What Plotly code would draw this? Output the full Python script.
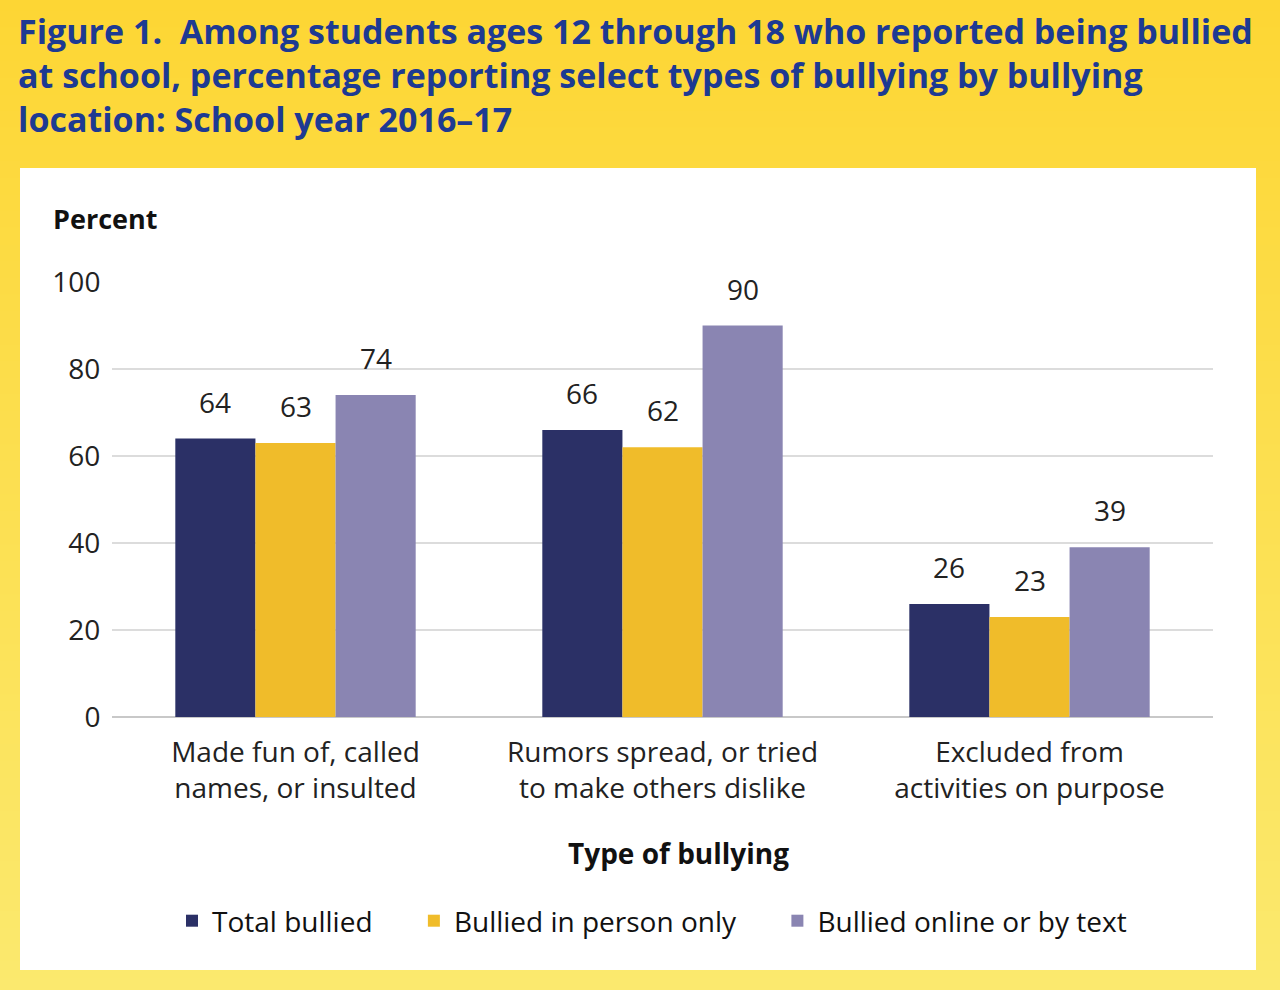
import plotly.graph_objects as go

categories = ["Made fun of, called<br>names, or insulted",
              "Rumors spread, or tried<br>to make others dislike",
              "Excluded from<br>activities on purpose"]
series_names = ["Total bullied", "Bullied in person only", "Bullied online or by text"]
total_bullied = [64, 66, 26]
in_person_only = [63, 62, 23]
online_or_text = [74, 90, 39]
y_ticks = [0, 20, 40, 60, 80, 100]

colors = ["#2B3066", "#F0BC2A", "#8A85B2"]
values = [total_bullied, in_person_only, online_or_text]

W, H = 1280, 990
FONT = "Open Sans"
L, R, T, B = 112, 67, 282, 273
pw = W - L - R
ph = H - T - B
BARGAP = 0.345
bar_px = pw / len(categories) * (1 - BARGAP) / len(series_names)

fig = go.Figure()
pad = ["\u00a0\u00a0\u00a0\u00a0\u00a0", "\u00a0\u00a0\u00a0\u00a0\u00a0", ""]
for name, vals, c, p in zip(series_names, values, colors, pad):
    fig.add_trace(go.Bar(
        x=categories, y=vals, name=name + p, marker=dict(color=c, line=dict(width=0)),
        hoverinfo="x+y",
    ))

def px_x(x):
    return (x - L) / pw

def px_y(y):
    return (H - B - y) / ph

shapes = []
# yellow gradient background
n = 60
top = (253, 214, 52)
bot = (251, 233, 110)
y_hi, y_lo = px_y(-5), px_y(H + 5)
for i in range(n):
    t = i / (n - 1)
    r = round(top[0] + (bot[0] - top[0]) * t)
    g = round(top[1] + (bot[1] - top[1]) * t)
    b = round(top[2] + (bot[2] - top[2]) * t)
    step = (y_hi - y_lo) / n
    shapes.append(dict(type="rect", xref="paper", yref="paper",
                       x0=px_x(-5), x1=px_x(W + 5),
                       y0=y_hi - (i + 1) * step, y1=y_hi - i * step + 0.002,
                       fillcolor=f"rgb({r},{g},{b})", line=dict(width=0), layer="below"))

shapes.append(dict(type="rect", xref="paper", yref="paper",
                   x0=px_x(20), x1=px_x(1256), y0=px_y(970), y1=px_y(168),
                   fillcolor="white", line=dict(width=0), layer="below"))

annotations = [
    dict(text="<b>Figure 1.  Among students ages 12 through 18 who reported being bullied<br>"
              "at school, percentage reporting select types of bullying by bullying<br>"
              "location: School year 2016\u201317</b>",
         xref="paper", yref="paper", x=px_x(16), y=px_y(6), xanchor="left", yanchor="top",
         align="left", showarrow=False,
         font=dict(family=FONT, size=34, color="#1D3A92")),
    dict(text="<b>Percent</b>", xref="paper", yref="paper", x=px_x(51), y=px_y(219),
         xanchor="left", yanchor="middle", showarrow=False,
         font=dict(family=FONT, size=27, color="#111111")),
    dict(text="<b>Type of bullying</b>", xref="paper", yref="paper", x=px_x(678), y=px_y(853),
         xanchor="center", yanchor="middle", showarrow=False,
         font=dict(family=FONT, size=28, color="#111111")),
]

# value labels above each bar
offsets = [-1, 0, 1]
for vals, off in zip(values, offsets):
    for cat, v in zip(categories, vals):
        annotations.append(dict(
            x=cat, y=v, xref="x", yref="y", text=str(v), showarrow=False,
            xanchor="center", yanchor="bottom", xshift=off * bar_px, yshift=16,
            font=dict(family=FONT, size=28, color="#222222")))

fig.update_layout(
    width=W, height=H,
    margin=dict(l=L, r=R, t=T, b=B),
    paper_bgcolor="#FDD835", plot_bgcolor="rgba(0,0,0,0)",
    barmode="group", bargap=BARGAP, bargroupgap=0,
    shapes=shapes, annotations=annotations,
    font=dict(family=FONT, color="#222222"),
    showlegend=True,
    legend=dict(orientation="h", x=px_x(652), xanchor="center", y=px_y(921), yanchor="middle",
                font=dict(family=FONT, size=28, color="#111111"),
                bgcolor="rgba(0,0,0,0)", traceorder="normal",
                itemsizing="constant"),
    xaxis=dict(tickfont=dict(family=FONT, size=28, color="#222222"),
               showgrid=False, showline=False,
               ticks="outside", ticklen=10, tickcolor="rgba(0,0,0,0)"),
    yaxis=dict(range=[0, 100], tickvals=y_ticks, showgrid=True, gridcolor="#DCDCDC",
               gridwidth=2, zeroline=True, zerolinecolor="#C8C8C8", zerolinewidth=2,
               tickfont=dict(family=FONT, size=28, color="#222222"),
               ticks="outside", ticklen=5, tickcolor="rgba(0,0,0,0)", showline=False),
)

fig.write_html("out.html", config={"displayModeBar": False},
               post_script="document.body.style.margin='0';document.body.style.overflow='hidden';")
